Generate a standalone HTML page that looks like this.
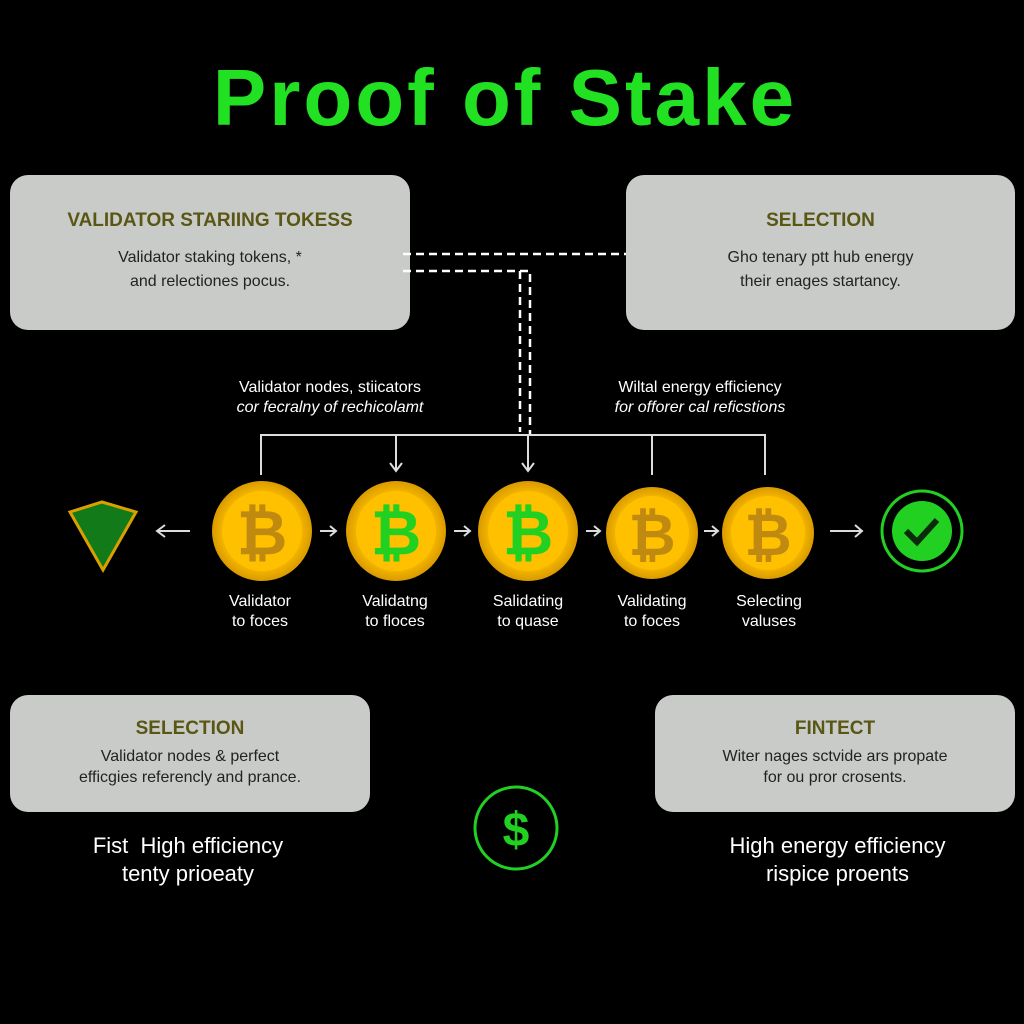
<!DOCTYPE html>
<html><head><meta charset="utf-8"><style>
body{margin:0;background:#000;width:1024px;height:1024px;overflow:hidden;position:relative;font-family:"Liberation Sans",sans-serif}
.box{position:absolute;background:#c9cbc9;border-radius:18px;text-align:center;color:#222}
.box h3{margin:0;color:#5a5614;font-size:19px;font-weight:bold}
.box p{margin:0;font-size:16px;line-height:24px}
.t{position:absolute;color:#fff;text-align:center;font-size:16px;line-height:20px}
.big{position:absolute;color:#fff;text-align:center;font-size:22px;line-height:28px}
</style></head><body>
<div style="position:absolute;left:0;width:1010px;top:52px;text-align:center;color:#22e022;font-weight:bold;font-size:80px;letter-spacing:3px">Proof of Stake</div>

<div class="box" style="left:10px;top:175px;width:400px;height:155px"><h3 style="margin-top:35px">VALIDATOR STARIING TOKESS</h3><p style="margin-top:14px">Validator staking tokens, *<br>and relectiones pocus.</p></div>
<div class="box" style="left:626px;top:175px;width:389px;height:155px"><h3 style="margin-top:35px">SELECTION</h3><p style="margin-top:14px">Gho tenary ptt hub energy<br>their enages startancy.</p></div>
<div class="box" style="left:10px;top:695px;width:360px;height:117px"><h3 style="margin-top:23px">SELECTION</h3><p style="margin-top:6px;line-height:21px">Validator nodes &amp; perfect<br>efficgies referencly and prance.</p></div>
<div class="box" style="left:655px;top:695px;width:360px;height:117px"><h3 style="margin-top:23px">FINTECT</h3><p style="margin-top:6px;line-height:21px">Witer nages sctvide ars propate<br>for ou pror crosents.</p></div>

<div class="t" style="left:180px;width:300px;top:378px">Validator nodes, stiicators<br><i>cor fecralny of rechicolamt</i></div>
<div class="t" style="left:560px;width:280px;top:378px">Wiltal energy efficiency<br><i>for offorer cal reficstions</i></div>

<svg width="1024" height="1024" style="position:absolute;left:0;top:0">
<defs><radialGradient id="g"><stop offset="0.7" stop-color="#ffc000"/><stop offset="1" stop-color="#d99a00"/></radialGradient></defs>
<g stroke="#fff" stroke-width="2.5" fill="none" stroke-dasharray="8 5">
<line x1="403" y1="254" x2="626" y2="254"/><path d="M403 271H530V435"/><line x1="520" y1="271" x2="520" y2="432"/>
</g>
<g stroke="#ddd" stroke-width="2" fill="none">
<path d="M261 475V435H765V475"/><line x1="396" y1="435" x2="396" y2="470"/><line x1="528" y1="435" x2="528" y2="470"/><line x1="652" y1="435" x2="652" y2="475"/>
<path d="M390 463l6 8 6-8M522 463l6 8 6-8"/>
<path d="M190 531H157M165 525l-8 6 8 6"/><path d="M320 531H336M330 526l6 5-6 5"/><path d="M454 531H470M464 526l6 5-6 5"/><path d="M586 531H600M594 526l6 5-6 5"/><path d="M704 531H718M712 526l6 5-6 5"/><path d="M830 531H862M855 525l7 6-7 6"/>
</g>
<polygon points="70,512 102,502 136,512 103,570" fill="#137a1a" stroke="#d9a000" stroke-width="3"/>
<g font-family="Liberation Sans" font-weight="bold" text-anchor="middle">
<circle cx="262" cy="531" r="50" fill="url(#g)"/><circle cx="262" cy="531" r="40" fill="#ffc000"/><text x="262" y="554" font-size="62" fill="#c08a10">₿</text>
<circle cx="396" cy="531" r="50" fill="url(#g)"/><circle cx="396" cy="531" r="40" fill="#ffc000"/><text x="396" y="554" font-size="62" fill="#22d022">₿</text>
<circle cx="528" cy="531" r="50" fill="url(#g)"/><circle cx="528" cy="531" r="40" fill="#ffc000"/><text x="528" y="554" font-size="62" fill="#22d022">₿</text>
<circle cx="652" cy="533" r="46" fill="url(#g)"/><circle cx="652" cy="533" r="37" fill="#ffc000"/><text x="652" y="555" font-size="58" fill="#c08a10">₿</text>
<circle cx="768" cy="533" r="46" fill="url(#g)"/><circle cx="768" cy="533" r="37" fill="#ffc000"/><text x="768" y="555" font-size="58" fill="#c08a10">₿</text>
</g>
<circle cx="922" cy="531" r="40" fill="none" stroke="#22d022" stroke-width="3"/>
<circle cx="922" cy="531" r="30" fill="#22d022"/>
<path d="M906 531l11 11 20-22" stroke="#0a2a0a" stroke-width="6" fill="none"/>
<circle cx="516" cy="828" r="41" fill="none" stroke="#22d022" stroke-width="3"/>
<text x="516" y="846" text-anchor="middle" font-family="Liberation Sans" font-weight="bold" font-size="48" fill="#22d022">$</text>
</svg>

<div class="t" style="left:195px;width:130px;top:592px">Validator<br>to foces</div>
<div class="t" style="left:330px;width:130px;top:592px">Validatng<br>to floces</div>
<div class="t" style="left:463px;width:130px;top:592px">Salidating<br>to quase</div>
<div class="t" style="left:587px;width:130px;top:592px">Validating<br>to foces</div>
<div class="t" style="left:704px;width:130px;top:592px">Selecting<br>valuses</div>

<div class="big" style="left:38px;width:300px;top:832px">Fist &nbsp;High efficiency<br>tenty prioeaty</div>
<div class="big" style="left:680px;width:315px;top:832px">High energy efficiency<br>rispice proents</div>
</body></html>
